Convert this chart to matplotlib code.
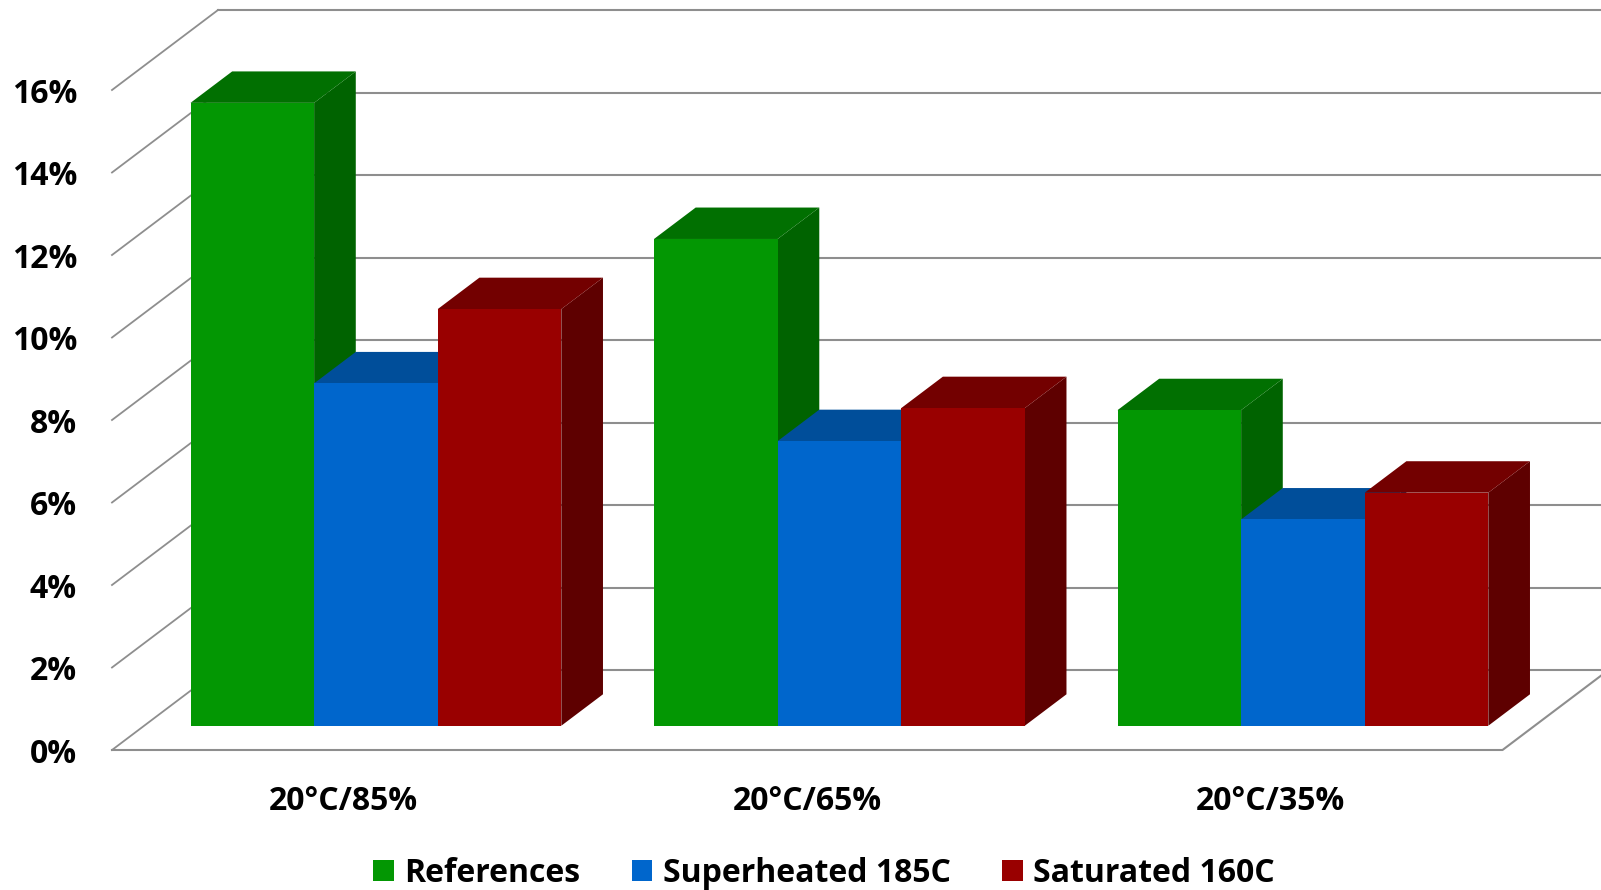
import matplotlib
matplotlib.use("Agg")
import matplotlib.pyplot as plt
from matplotlib.patches import Patch

plt.rcParams['font.family'] = ['Open Sans', 'DejaVu Sans']

categories = ['20°C/85%', '20°C/65%', '20°C/35%']
series = ['References', 'Superheated 185C', 'Saturated 160C']
references = [15.1, 11.8, 7.65]
superheated = [8.3, 6.9, 5.0]
saturated = [10.1, 7.7, 5.65]
values = [references, superheated, saturated]
yticks = [0, 2, 4, 6, 8, 10, 12, 14, 16]

# front / top / side shades per series
front_cols = ['#039703', '#0066cc', '#990000']
top_cols = ['#017001', '#004e9a', '#730000']
side_cols = ['#006300', '#003f7f', '#5e0000']
grid_col = '#8e8e8e'

# oblique projection: full depth shifts by DX categories and DY percent
DX = 0.2287
DY = 1.939
d0, d1 = 0.3035, 0.6965
ncat = len(categories)
w = 1 / (3 + 0.75)
gap = 0.75 * w
fs = 23


def P(u, p, d):
    return u + d * DX, p + d * DY


fig = plt.figure(figsize=(16.01, 8.90), dpi=100)
ax = fig.add_axes([0, 0, 1, 1])
ax.set_xlim(-112 / 463.5, (1601 - 112) / 463.5)
ax.set_ylim((750 - 890) / 41.25, 750 / 41.25)
ax.axis('off')

# back wall gridlines and left wall diagonals
for t in yticks:
    xa, ya = P(0, t, 1)
    xb, yb = P(ncat, t, 1)
    ax.plot([xa, xb], [ya, yb], color=grid_col, lw=1.5, zorder=1)
    xf, yf = P(0, t, 0)
    ax.plot([xf, xa], [yf, ya], color=grid_col, lw=1.3, zorder=1)

# floor outline
fl = [P(0, 0, 0), P(ncat, 0, 0), P(ncat, 0, 1)]
ax.plot([q[0] for q in fl], [q[1] for q in fl], color=grid_col, lw=1.5, zorder=1)

# bars
for i in range(ncat):
    for j in range(len(series)):
        v = values[j][i]
        x0 = i + gap / 2 + j * w
        x1 = x0 + w
        front = [P(x0, 0, d0), P(x1, 0, d0), P(x1, v, d0), P(x0, v, d0)]
        top = [P(x0, v, d0), P(x1, v, d0), P(x1, v, d1), P(x0, v, d1)]
        side = [P(x1, 0, d0), P(x1, 0, d1), P(x1, v, d1), P(x1, v, d0)]
        z = 2 + i * 3 + j
        for poly, c in [(side, side_cols[j]), (top, top_cols[j]), (front, front_cols[j])]:
            ax.fill([q[0] for q in poly], [q[1] for q in poly], color=c, lw=0, zorder=z)

# y labels
for t in yticks:
    ax.text(-35 / 463.5, t - 0.1, f'{t}%', ha='right', va='center', fontsize=fs,
            fontweight='bold', color='black')

# category labels
for i, c in enumerate(categories):
    ax.text(i + 0.5, (750 - 802) / 41.25, c, ha='center', va='center',
            fontsize=fs, fontweight='bold', color='black')

handles = [Patch(facecolor=front_cols[j], edgecolor='none', label=series[j]) for j in range(3)]
leg = fig.legend(handles=handles, loc='center', bbox_to_anchor=(824 / 1601, 17 / 890),
                 ncol=3, frameon=False, prop={'size': fs, 'weight': 'bold'},
                 handlelength=0.65, handleheight=0.65, handletextpad=0.33,
                 columnspacing=1.6)

fig.savefig('out.png', dpi=100)
